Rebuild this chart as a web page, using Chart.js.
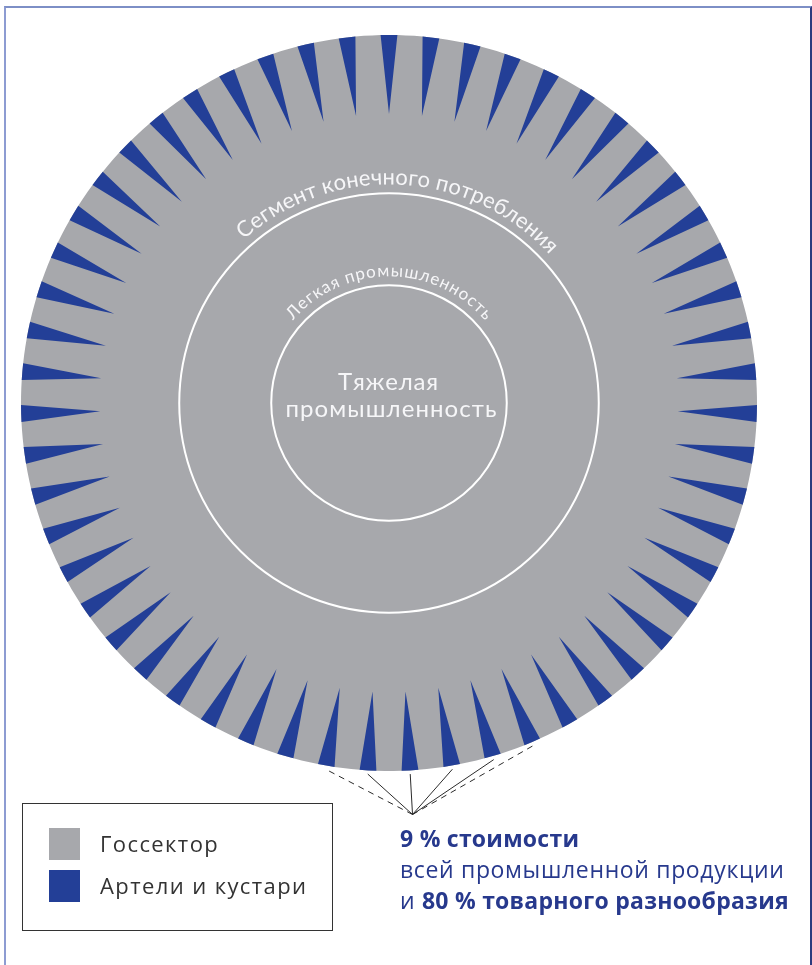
<!DOCTYPE html>
<html>
<head>
<meta charset="utf-8">
<script src="https://cdn.jsdelivr.net/npm/chart.js@4/dist/chart.umd.min.js"></script>
<style>
html,body{margin:0;padding:0;background:#fff;}
body{width:812px;height:965px;position:relative;overflow:hidden;font-family:"Open Sans",sans-serif;}
#frame{position:absolute;left:4px;top:6px;width:808px;height:980px;border-top:2px solid #7d8fc6;border-left:2px solid #8d9cd2;border-right:2px solid #2d3b7d;box-sizing:border-box;}
#wrap{position:absolute;left:0;top:0;width:812px;height:965px;}
#legend{position:absolute;left:22px;top:803px;width:311px;height:128px;border:1.5px solid #333;box-sizing:border-box;}
.sw{position:absolute;left:26px;width:31px;height:32px;}
.lt{position:absolute;left:77px;font-size:22px;letter-spacing:1.4px;color:#333;line-height:30px;white-space:nowrap;}
#callout{position:absolute;left:400px;top:823px;color:#27398d;font-size:23px;letter-spacing:0.65px;line-height:31px;white-space:nowrap;}
#callout b{font-weight:700;letter-spacing:0.25px;}
</style>
</head>
<body>
<div id="frame"></div>
<div id="wrap"><canvas id="c" width="812" height="965"></canvas></div>
<div id="legend"></div>
<div id="callout"></div>
<script>
// ---- data ----
const categories = ['Госсектор', 'Артели и кустари'];
const colors = ['#a7a8ac', '#233f97'];
const wedgeCount = 55;                          // artel wedges around the rim
const wedgeProfile = [100, 78.5, 100, 100, 100]; // one period: wedge edge, wedge tip, wedge edge, gap, gap
const rimValue = 100;                           // state sector disc
const ringBounds = [0, 32, 57];                 // white ring boundaries (scale values)
const centerLabel = ['Тяжелая', 'промышленность'];
const arcLabels = [
  {text: 'Легкая промышленность', value: 34.4, mid: 0.6, span: 94, size: 17},
  {text: 'Сегмент конечного потребления', value: 59.4, mid: 3.1, span: 85.5, size: 22}
];
const calloutWedges = [24, 25, 26, 27, 28, 29];
const calloutDashed = [24, 29];
const calloutLines = [
  '<b>9 % стоимости</b>',
  'всей промышленной продукции',
  'и <b>80 % товарного разнообразия</b>'
];

// ---- build chart inputs ----
const labels = [];
const artelValues = [];
const stateValues = [];
for (let k = 0; k < wedgeCount; k++) {
  wedgeProfile.forEach(v => { labels.push(''); artelValues.push(v); stateValues.push(rimValue); });
}
const periodPts = wedgeProfile.length;

// HTML legend & callout text
const lg = document.getElementById('legend');
categories.forEach((c, i) => {
  const sw = document.createElement('div');
  sw.className = 'sw'; sw.style.top = (24 + i * 42) + 'px'; sw.style.background = colors[i];
  const t = document.createElement('div');
  t.className = 'lt'; t.style.top = (24 + i * 42) + 'px'; t.textContent = c;
  lg.appendChild(sw); lg.appendChild(t);
});
document.getElementById('callout').innerHTML = calloutLines.join('<br>');

function drawArcText(ctx, cx, cy, r, text, midDeg, spanDeg) {
  const chars = [...text];
  const w = chars.map(ch => ctx.measureText(ch).width);
  let natural = 0;
  for (let i = 0; i < chars.length - 1; i++) natural += w[i] / 2 + w[i + 1] / 2;
  const len = r * spanDeg * Math.PI / 180;
  const extra = (len - natural) / (chars.length - 1);
  let pos = -len / 2;
  chars.forEach((ch, i) => {
    const a = midDeg * Math.PI / 180 + pos / r;
    ctx.save();
    ctx.translate(cx + r * Math.sin(a), cy - r * Math.cos(a));
    ctx.rotate(a);
    ctx.fillText(ch, 0, 0);
    ctx.restore();
    if (i < chars.length - 1) pos += w[i] / 2 + extra + w[i + 1] / 2;
  });
}

function drawSpaced(ctx, text, cx, y, target) {
  const chars = [...text];
  const w = chars.map(ch => ctx.measureText(ch).width);
  const total = w.reduce((a, b) => a + b, 0);
  const extra = target ? (target - total) / (chars.length - 1) : 0;
  let x = cx - (total + extra * (chars.length - 1)) / 2;
  ctx.textAlign = 'left';
  chars.forEach((ch, i) => { ctx.fillText(ch, x, y); x += w[i] + extra; });
}

const overlay = {
  id: 'overlay',
  afterDraw(chart) {
    const s = chart.scales.r;
    const ctx = chart.ctx;
    const cx = s.xCenter, cy = s.yCenter;
    ctx.save();
    ctx.fillStyle = '#f6f6f8';
    ctx.textBaseline = 'alphabetic';
    // centre label
    ctx.font = '400 24px Lato';
    drawSpaced(ctx, centerLabel[0], cx - 1, cy - 13, 100);
    drawSpaced(ctx, centerLabel[1], cx + 2, cy + 14, 211);
    // curved labels
    ctx.textAlign = 'center';
    arcLabels.forEach(l => {
      ctx.font = '400 ' + l.size + 'px Lato';
      drawArcText(ctx, cx, cy, s.getDistanceFromCenterForValue(l.value), l.text, l.mid, l.span);
    });
    // callout lines
    const anchor = s.getPointPositionForValue(27 * periodPts + 1, 112);
    ctx.strokeStyle = '#2b2b2b';
    ctx.lineWidth = 1;
    calloutWedges.forEach(k => {
      const p = s.getPointPositionForValue(k * periodPts + 1, 101);
      ctx.setLineDash(calloutDashed.includes(k) ? [6, 5] : []);
      ctx.beginPath();
      ctx.moveTo(anchor.x, anchor.y);
      ctx.lineTo(p.x, p.y);
      ctx.stroke();
    });
    ctx.restore();
  }
};

new Chart(document.getElementById('c'), {
  type: 'radar',
  data: {
    labels: labels,
    datasets: [
      {label: categories[1], data: artelValues, backgroundColor: colors[1], borderWidth: 0, pointRadius: 0, fill: 1},
      {label: categories[0], data: stateValues, backgroundColor: colors[0], borderWidth: 0, pointRadius: 0, fill: 'origin'}
    ]
  },
  options: {
    responsive: false,
    animation: false,
    events: [],
    layout: {padding: {left: 21, top: 35, right: 55, bottom: 194}},
    plugins: {legend: {display: false}, tooltip: {enabled: false}},
    elements: {line: {tension: 0}},
    scales: {
      r: {
        min: 0, max: rimValue,
        startAngle: -360 / (wedgeCount * periodPts),
        angleLines: {display: false},
        pointLabels: {display: false},
        ticks: {display: false, z: 1},
        grid: {circular: true, color: '#ffffff', lineWidth: 2, z: 1},
        afterBuildTicks: (sc) => { sc.ticks = ringBounds.map(v => ({value: v})); }
      }
    }
  },
  plugins: [overlay]
});
</script>
</body>
</html>
